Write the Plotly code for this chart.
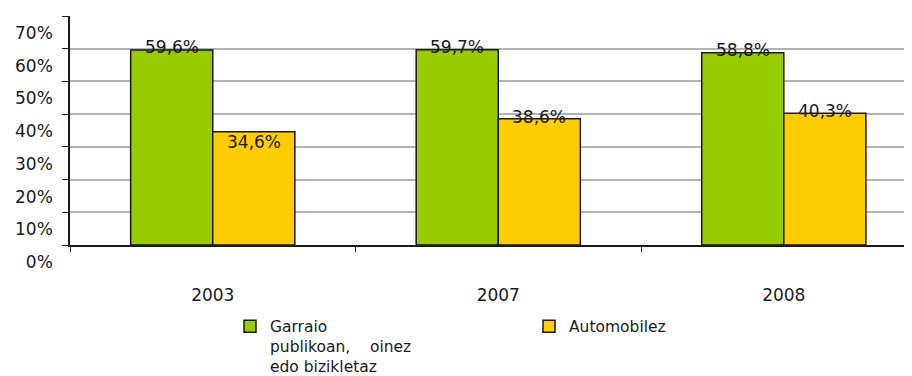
import plotly.graph_objects as go

years = ["2003", "2007", "2008"]
garraio = [59.6, 59.7, 58.8]
automobilez = [34.6, 38.6, 40.3]
series_names = ["Garraio<br>publikoan,\u00a0\u00a0\u00a0\u00a0oinez<br>edo bizikletaz", "Automobilez"]
y_ticks = [0, 10, 20, 30, 40, 50, 60, 70]
y_tick_labels = ["0%", "10%", "20%", "30%", "40%", "50%", "60%", "70%"]
value_labels_g = ["59,6%", "59,7%", "58,8%"]
value_labels_a = ["34,6%", "38,6%", "40,3%"]

# label vertical nudges (style only, px)
shift_g = [3, 3, 3]
shift_a = [-10, 2, 2]

FONT = "DejaVu Sans"
GREEN = "#99CC00"
YELLOW = "#FFCC00"

fig = go.Figure()
fig.add_trace(go.Bar(x=years, y=garraio, name=series_names[0],
                     marker=dict(color=GREEN, line=dict(color="#1a1a1a", width=1.5))))
fig.add_trace(go.Bar(x=years, y=automobilez, name=series_names[1],
                     marker=dict(color=YELLOW, line=dict(color="#1a1a1a", width=1.5))))

BAR_OFF = 41
for i, yr in enumerate(years):
    fig.add_annotation(x=i, y=garraio[i], text=value_labels_g[i], showarrow=False,
                       xshift=-BAR_OFF, yshift=shift_g[i], yanchor="middle",
                       font=dict(family=FONT, size=17, color="#1a1a1a"))
    fig.add_annotation(x=i, y=automobilez[i], text=value_labels_a[i], showarrow=False,
                       xshift=BAR_OFF, yshift=shift_a[i], yanchor="middle",
                       font=dict(family=FONT, size=17, color="#1a1a1a"))

fig.update_layout(
    width=912, height=376,
    margin=dict(l=62, r=8, t=8, b=139, autoexpand=False),
    paper_bgcolor="white", plot_bgcolor="white",
    barmode="group", bargap=0.425, bargroupgap=0,
    font=dict(family=FONT, size=17, color="#1a1a1a"),
    showlegend=True,
    legend=dict(orientation="h", x=0.19, y=-0.282, xanchor="left", yanchor="top",
                entrywidth=254, entrywidthmode="pixels", valign="top",
                font=dict(family=FONT, size=15.5, color="#1a1a1a"),
                traceorder="normal", itemclick=False),
)
fig.update_xaxes(type="category", range=[-0.5, 2.449], automargin=False,
                 showline=True, linecolor="#1a1a1a", linewidth=1.5,
                 ticks="outside", ticklen=5, tickcolor="#1a1a1a", tickson="boundaries",
                 ticklabelstandoff=34, showgrid=False)
fig.update_yaxes(range=[0, 70], tickvals=y_ticks, ticktext=y_tick_labels, automargin=False,
                 showline=True, linecolor="#1a1a1a", linewidth=1.5,
                 ticks="outside", ticklen=6, tickcolor="#1a1a1a",
                 showgrid=True, gridcolor="#b3b3b3", gridwidth=1.5,
                 ticklabelshift=17, ticklabelstandoff=6, zeroline=False,
                 ticklabeloverflow="allow")

fig.write_html("out.html")
